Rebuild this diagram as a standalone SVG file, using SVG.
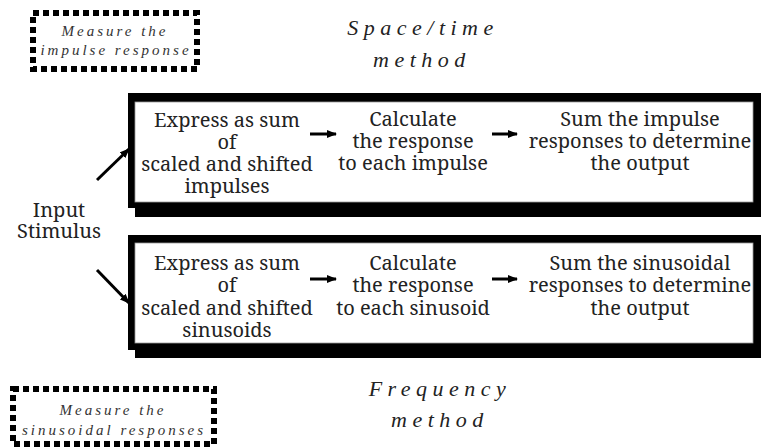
<svg xmlns="http://www.w3.org/2000/svg" width="761" height="448" viewBox="0 0 761 448">
<style>
.bt{font-family:"Noto Serif","DejaVu Serif",serif;font-size:20px;fill:#222;text-anchor:middle}
.tt{font-family:"Liberation Serif",serif;font-style:italic;font-size:22px;letter-spacing:5.5px;fill:#222;text-anchor:middle}
.mt{font-family:"Liberation Serif",serif;font-style:italic;font-size:15px;letter-spacing:3px;fill:#333;text-anchor:middle}
.dot{fill:none;stroke:#000;stroke-width:6;stroke-dasharray:6 4}
.conn{stroke:#000;stroke-width:3;fill:none}
</style>
<defs>
<marker id="ah" markerWidth="10" markerHeight="8" refX="9" refY="4" orient="auto" markerUnits="userSpaceOnUse">
<path d="M0,0 L10,4 L0,8 Z" fill="#000"/>
</marker>
</defs>
<g id="measure-impulse">
<rect class="dot" x="33" y="13" width="164" height="56"/>
<text class="mt" x="115" y="36">Measure the</text>
<text class="mt" x="116" y="55">impulse response</text>
</g>
<g id="space-time-title">
<text class="tt" x="423" y="35">Space/time</text>
<text class="tt" x="422" y="67">method</text>
</g>
<g id="space-box">
<rect x="135" y="202" width="626" height="15" fill="#000"/>
<rect x="128" y="93" width="633" height="115" fill="#000"/>
<rect x="135" y="102" width="618" height="100" fill="#fff" stroke="#999" stroke-width="0.8"/>
<text class="bt" x="227" y="127">Express as sum</text>
<text class="bt" x="227" y="149">of</text>
<text class="bt" x="227" y="171">scaled and shifted</text>
<text class="bt" x="227" y="193">impulses</text>
<text class="bt" x="413" y="126">Calculate</text>
<text class="bt" x="413" y="148">the response</text>
<text class="bt" x="413" y="170">to each impulse</text>
<text class="bt" x="640" y="126">Sum the impulse</text>
<text class="bt" x="640" y="148">responses to determine</text>
<text class="bt" x="640" y="170">the output</text>
</g>
<g id="input">
<text class="bt" x="59" y="217">Input</text>
<text class="bt" x="59" y="238">Stimulus</text>
</g>
<g id="freq-box">
<rect x="135" y="343" width="626" height="15" fill="#000"/>
<rect x="128" y="235" width="633" height="115" fill="#000"/>
<rect x="135" y="243" width="618" height="100" fill="#fff" stroke="#999" stroke-width="0.8"/>
<text class="bt" x="227" y="270">Express as sum</text>
<text class="bt" x="227" y="292">of</text>
<text class="bt" x="227" y="315">scaled and shifted</text>
<text class="bt" x="227" y="337">sinusoids</text>
<text class="bt" x="413" y="270">Calculate</text>
<text class="bt" x="413" y="292">the response</text>
<text class="bt" x="413" y="315">to each sinusoid</text>
<text class="bt" x="640" y="270">Sum the sinusoidal</text>
<text class="bt" x="640" y="292">responses to determine</text>
<text class="bt" x="640" y="315">the output</text>
</g>
<g id="frequency-title">
<text class="tt" x="440" y="396">Frequency</text>
<text class="tt" x="440" y="427">method</text>
</g>
<g id="measure-sinusoid">
<rect class="dot" x="13" y="389" width="201" height="55"/>
<text class="mt" x="113" y="415">Measure the</text>
<text class="mt" x="114" y="435">sinusoidal responses</text>
</g>
<g id="connectors">
<line class="conn" x1="97" y1="180" x2="129" y2="149" marker-end="url(#ah)"/>
<line class="conn" x1="97" y1="270" x2="129" y2="303" marker-end="url(#ah)"/>
<line class="conn" x1="310" y1="134" x2="336" y2="134" marker-end="url(#ah)"/>
<line class="conn" x1="492" y1="134" x2="517" y2="134" marker-end="url(#ah)"/>
<line class="conn" x1="310" y1="279" x2="336" y2="279" marker-end="url(#ah)"/>
<line class="conn" x1="492" y1="279" x2="517" y2="279" marker-end="url(#ah)"/>
</g>
</svg>
